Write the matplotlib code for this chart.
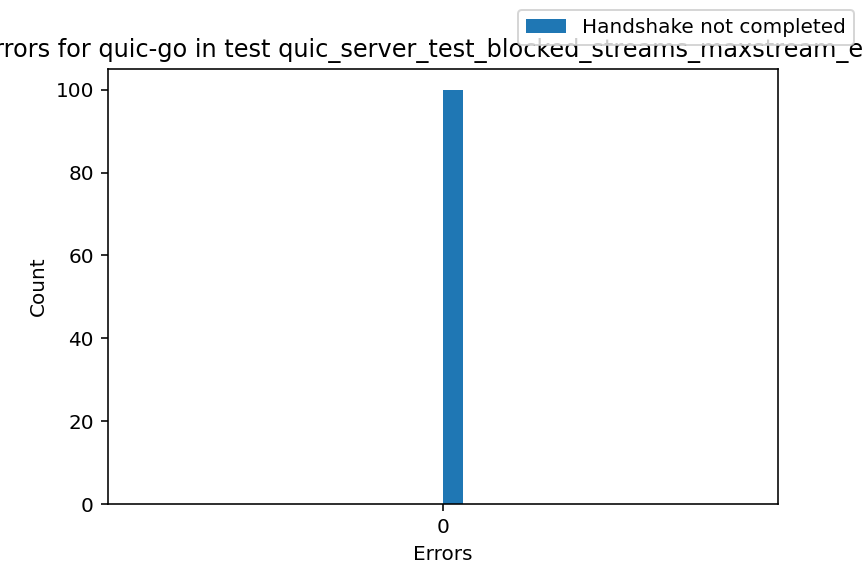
import numpy as np
import matplotlib
matplotlib.use("Agg")
import matplotlib.pyplot as plt

implementation = "quic-go"
test_name = "quic_server_test_blocked_streams_maxstream_error"
error_labels = ["Handshake not completed"]
error_counts = [100]
x_ticks = [0]

fig, ax = plt.subplots(figsize=(6, 4), dpi=144)
fig.subplots_adjust(left=0.125, right=0.9, bottom=0.125, top=0.88)

width = 0.03
x = np.arange(len(x_ticks))
for i, (label, count) in enumerate(zip(error_labels, error_counts)):
    ax.bar(x + i * width, [count], width, align="edge", label=label)

ax.set_xlim(-0.5, 0.5)
ax.set_xticks(x)
ax.set_xticklabels([str(t) for t in x_ticks])
ax.set_xlabel("Errors")
ax.set_ylabel("Count")
ax.set_title("Errors for %s in test %s" % (implementation, test_name))
fig.legend(loc="upper right")

fig.savefig("out.png")
